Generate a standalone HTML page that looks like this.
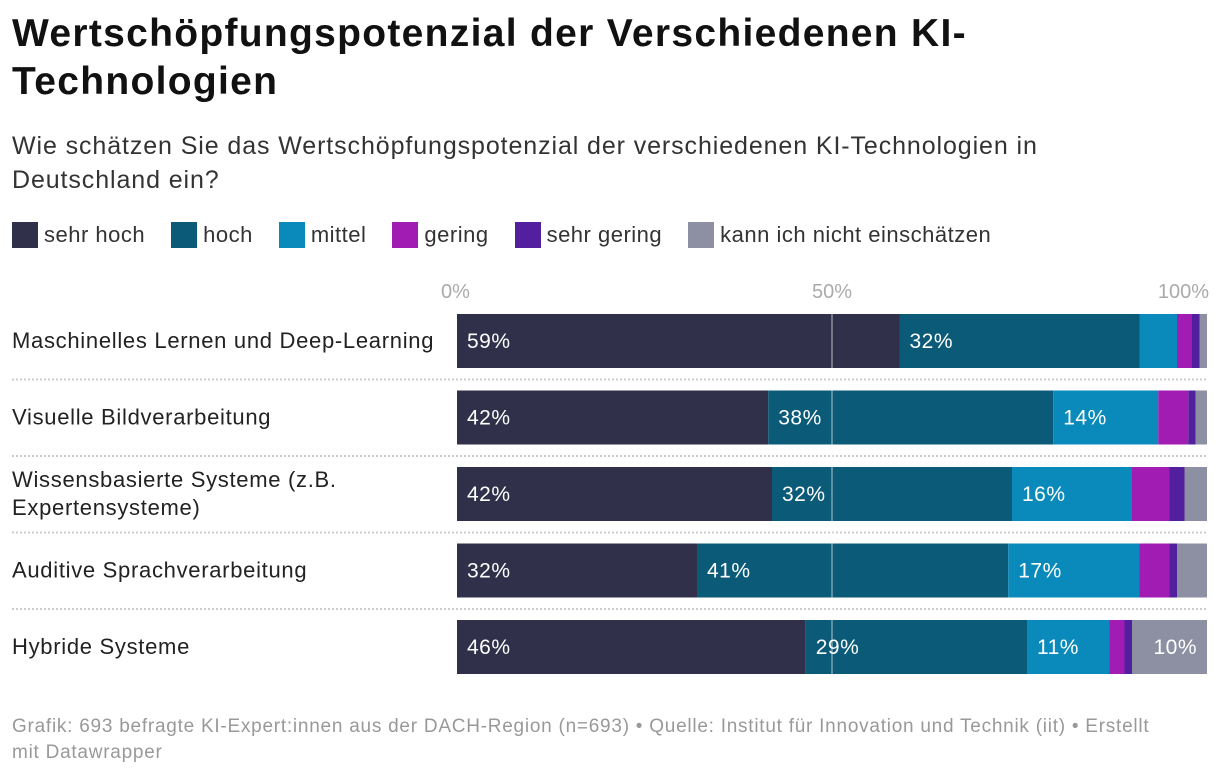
<!DOCTYPE html>
<html><head><meta charset="utf-8"><style>
body{margin:0;background:#fff;font-family:"Liberation Sans",sans-serif;}
#wrap{position:relative;width:1220px;height:778px;overflow:hidden}
h1{position:absolute;left:12px;top:10px;margin:0;font-size:39px;line-height:48px;font-weight:bold;color:#111;width:1000px;letter-spacing:1.3px}
.sub{position:absolute;left:12px;top:129px;font-size:25px;line-height:34px;color:#333;width:1120px;letter-spacing:0.9px}
.legend{position:absolute;left:12px;top:222px;font-size:22px;color:#333;display:flex;letter-spacing:0.5px}
.li{display:flex;align-items:center;margin-right:26px}
.sw{width:26px;height:26px;margin-right:6px}
.foot{position:absolute;left:12px;top:714px;font-size:19px;line-height:26px;color:#999;width:1195px;letter-spacing:0.75px}
</style></head><body><div id="wrap">
<h1>Wertschöpfungspotenzial der Verschiedenen KI-Technologien</h1>
<div class="sub">Wie schätzen Sie das Wertschöpfungspotenzial der verschiedenen KI-Technologien in Deutschland ein?</div>
<div class="legend" id="legend"></div>
<svg id="svg" width="1220" height="778" style="position:absolute;left:0;top:0"></svg>
<div class="foot">Grafik: 693 befragte KI-Expert:innen aus der DACH-Region (n=693) • Quelle: Institut für Innovation und Technik (iit) • Erstellt<br>mit Datawrapper</div>
</div>
<script>
const categories=["Maschinelles Lernen und Deep-Learning","Visuelle Bildverarbeitung","Wissensbasierte Systeme (z.B.|Expertensysteme)","Auditive Sprachverarbeitung","Hybride Systeme"];
const seriesNames=["sehr hoch","hoch","mittel","gering","sehr gering","kann ich nicht einschätzen"];
const colors=["#30304a","#0a5a78","#0a8abb","#a01cb2","#521f9e","#8d8fa2"];
const sehrHoch=[59,41.5,42,32,46.5];
const hoch=[32,38,32,41.5,29.5];
const mittel=[5,14,16,17.5,11];
const gering=[2,4,5,4,2];
const sehrGering=[1,1,2,1,1];
const kann=[1,1.5,3,4,10];
const labels=[["59%","32%","","","",""],["42%","38%","14%","","",""],["42%","32%","16%","","",""],["32%","41%","17%","","",""],["46%","29%","11%","","","10%"]];
const ticks=[0,50,100];
const series=[sehrHoch,hoch,mittel,gering,sehrGering,kann];
const X0=457,X1=1207;
const x=v=>X0+(X1-X0)*v/100;
const rowTop=i=>314+i*76.5;
const NS="http://www.w3.org/2000/svg";
const svg=document.getElementById('svg');
function mk(t,a){const e=document.createElementNS(NS,t);for(const k in a)e.setAttribute(k,a[k]);svg.appendChild(e);return e;}
const lg=document.getElementById('legend');
seriesNames.forEach((n,i)=>{const d=document.createElement('div');d.className='li';


d.innerHTML='<div class="sw" style="background:'+colors[i]+'"></div>'+n;lg.appendChild(d);});
ticks.forEach(t=>{const e=mk('text',{x:x(t),y:298,'font-size':20,fill:'#aaa','text-anchor':t==0?'start':t==100?'end':'middle'});


e.textContent=t+'%';if(t==0)e.setAttribute('x',x(t)-16);if(t==100)e.setAttribute('x',x(t)+2);});
categories.forEach((c,i)=>{const y=rowTop(i);
const parts=c.split('|');
parts.forEach((p,j)=>{const e=mk('text',{x:12,y:y+27+7+(j-(parts.length-1)/2)*28,'font-size':22,fill:'#222','letter-spacing':0.7});


e.textContent=p;});
if(i>0){const l=mk('line',{x1:12,x2:1208,y1:y-11,y2:y-11,stroke:'#ccc','stroke-width':2,'stroke-dasharray':'2,2'});

}
let acc=0;
series.forEach((s,k)=>{const v=s[i];const r=mk('rect',{x:x(acc),y:y,width:x(acc+v)-x(acc),height:54,fill:colors[k]});


if(labels[i][k]){const t=mk('text',{x:x(acc)+10,y:y+34,'font-size':21,fill:'#fff','letter-spacing':0.5});
if(k==5){t.setAttribute('x',x(acc+v)-10);t.setAttribute('text-anchor','end');}


t.textContent=labels[i][k];}
acc+=v;});
});
const g=mk('line',{x1:x(50),x2:x(50),y1:314,y2:674,stroke:'#fff','stroke-opacity':0.45,'stroke-width':1.5});


</script></body></html>
